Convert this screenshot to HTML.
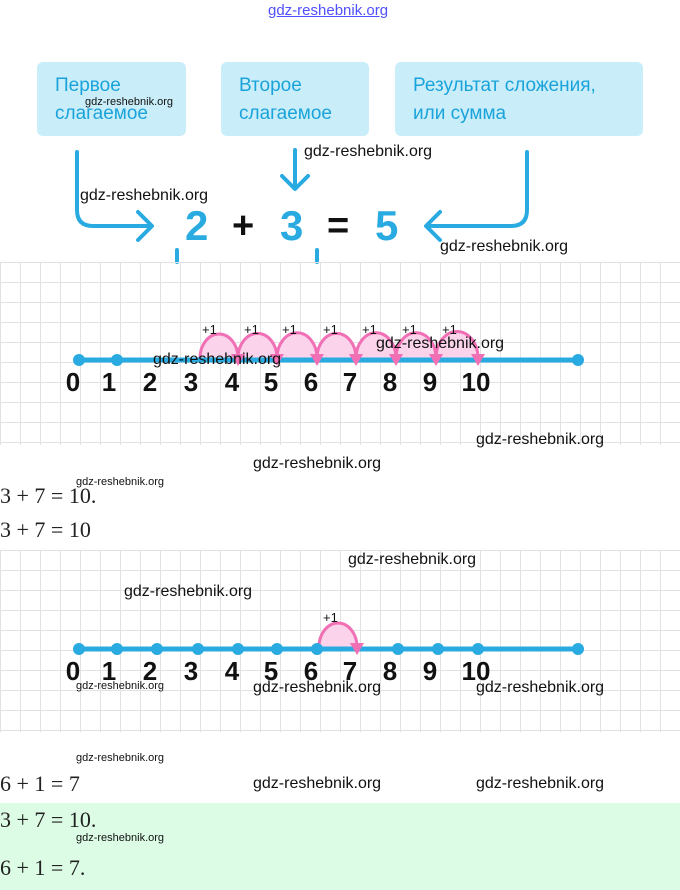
<!DOCTYPE html>
<html><head><meta charset="utf-8"><style>
body{margin:0;width:680px;height:890px;position:relative;background:#fff;overflow:hidden;font-family:"Liberation Sans",sans-serif}
.a{position:absolute}
.box{position:absolute;background:#c9eef9;border-radius:6px;color:#1aa3db;font-size:19px;line-height:28px;padding:10px 18px;box-sizing:border-box}
.wm{position:absolute;font-family:"Liberation Sans",sans-serif;font-size:16px;color:#111}
.ws{font-size:11px}
.grid{position:absolute;left:0;width:680px;background-image:linear-gradient(#e2e2e2 1px,transparent 1px),linear-gradient(90deg,#e2e2e2 1px,transparent 1px);background-size:20px 20px}
.m{position:absolute;font-family:"Liberation Serif",serif;font-size:22px;color:#222}
</style></head><body>
<div class="a" style="left:268px;top:2px;color:#5050ff;font-size:15px;text-decoration:underline">gdz-reshebnik.org</div>
<div class="box" style="left:37px;top:62px;width:149px;height:74px">Первое<br>слагаемое</div>
<div class="box" style="left:221px;top:62px;width:148px;height:74px">Второе<br>слагаемое</div>
<div class="box" style="left:395px;top:62px;width:248px;height:74px">Результат сложения,<br>или сумма</div>
<svg class="a" style="left:0;top:0" width="680" height="270">
<g fill="none" stroke="#29abe2" stroke-width="4" stroke-linecap="round" stroke-linejoin="round">
<path d="M77 152 V210 Q77 226 93 226 H150"/><path d="M138 212 L152 226 L138 240"/>
<path d="M295 150 V188"/><path d="M282 176 L295 189 L308 176"/>
<path d="M527 152 V210 Q527 226 511 226 H428"/><path d="M440 212 L426 226 L440 240"/>
<path d="M177 250 V262"/><path d="M317 250 V262"/>
</g>
<text x="185" y="240" font-size="42" font-weight="bold" fill="#29abe2" font-family="Liberation Sans">2</text>
<text x="232" y="238" font-size="38" font-weight="bold" fill="#111" font-family="Liberation Sans">+</text>
<text x="280" y="240" font-size="42" font-weight="bold" fill="#29abe2" font-family="Liberation Sans">3</text>
<text x="327" y="238" font-size="38" font-weight="bold" fill="#111" font-family="Liberation Sans">=</text>
<text x="375" y="240" font-size="42" font-weight="bold" fill="#29abe2" font-family="Liberation Sans">5</text>
</svg>
<div class="grid" style="top:262px;height:183px"></div>
<div class="grid" style="top:550px;height:182px"></div>
<svg class="a" style="left:0;top:0" width="680" height="890" font-family="Liberation Sans">
<g fill="#fbd3ea" stroke="#f06fb5" stroke-width="3">
<path d="M200 358 A19 24 0 0 1 238 358"/><path d="M238 358 A19 24 0 0 1 277 358"/><path d="M277 358 A19 24 0 0 1 317 358"/><path d="M317 358 A19 24 0 0 1 356 358"/><path d="M356 358 A19 24 0 0 1 396 358"/><path d="M396 358 A19 24 0 0 1 436 358"/><path d="M436 358 A19 24 0 0 1 478 358"/>
<path d="M319 647 A19 24 0 0 1 357 647"/>
</g>
<line x1="79" y1="360" x2="578" y2="360" stroke="#29abe2" stroke-width="5"/>
<line x1="79" y1="649" x2="578" y2="649" stroke="#29abe2" stroke-width="5"/>
<g fill="#29abe2"><circle cx="79" cy="360" r="6"/><circle cx="117" cy="360" r="6"/><circle cx="578" cy="360" r="6"/>
<circle cx="79" cy="649" r="6"/><circle cx="117" cy="649" r="6"/><circle cx="157" cy="649" r="6"/><circle cx="198" cy="649" r="6"/><circle cx="238" cy="649" r="6"/><circle cx="277" cy="649" r="6"/><circle cx="317" cy="649" r="6"/><circle cx="398" cy="649" r="6"/><circle cx="438" cy="649" r="6"/><circle cx="478" cy="649" r="6"/><circle cx="578" cy="649" r="6"/></g>
<g fill="#f06fb5"><path d="M231 354 h14 l-7 12z"/><path d="M270 354 h14 l-7 12z"/><path d="M310 354 h14 l-7 12z"/><path d="M349 354 h14 l-7 12z"/><path d="M389 354 h14 l-7 12z"/><path d="M429 354 h14 l-7 12z"/><path d="M471 354 h14 l-7 12z"/><path d="M350 643 h14 l-7 12z"/></g>
<g font-size="13" fill="#111"><text x="202" y="334">+1</text><text x="244" y="334">+1</text><text x="282" y="334">+1</text><text x="323" y="334">+1</text><text x="362" y="334">+1</text><text x="402" y="334">+1</text><text x="442" y="334">+1</text><text x="323" y="622">+1</text></g>
<g font-size="26" font-weight="bold" fill="#111" text-anchor="middle"><text x="73" y="391">0</text><text x="109" y="391">1</text><text x="150" y="391">2</text><text x="191" y="391">3</text><text x="232" y="391">4</text><text x="271" y="391">5</text><text x="311" y="391">6</text><text x="350" y="391">7</text><text x="390" y="391">8</text><text x="430" y="391">9</text><text x="476" y="391">10</text>
<text x="73" y="680">0</text><text x="109" y="680">1</text><text x="150" y="680">2</text><text x="191" y="680">3</text><text x="232" y="680">4</text><text x="271" y="680">5</text><text x="311" y="680">6</text><text x="350" y="680">7</text><text x="390" y="680">8</text><text x="430" y="680">9</text><text x="476" y="680">10</text></g>
</svg>
<div class="a" style="left:0;top:803px;width:680px;height:87px;background:#dcfce6"></div>
<div class="m" style="left:0;top:483px">3 + 7 = 10.</div>
<div class="m" style="left:0;top:517px">3 + 7 = 10</div>
<div class="m" style="left:0;top:771px">6 + 1 = 7</div>
<div class="m" style="left:0;top:807px">3 + 7 = 10.</div>
<div class="m" style="left:0;top:855px">6 + 1 = 7.</div>
<div class="wm ws" style="left:85px;top:96px">gdz-reshebnik.org</div>
<div class="wm" style="left:304px;top:143px">gdz-reshebnik.org</div>
<div class="wm" style="left:80px;top:187px">gdz-reshebnik.org</div>
<div class="wm" style="left:440px;top:238px">gdz-reshebnik.org</div>
<div class="wm" style="left:153px;top:351px">gdz-reshebnik.org</div>
<div class="wm" style="left:376px;top:335px">gdz-reshebnik.org</div>
<div class="wm" style="left:476px;top:431px">gdz-reshebnik.org</div>
<div class="wm" style="left:253px;top:455px">gdz-reshebnik.org</div>
<div class="wm ws" style="left:76px;top:476px">gdz-reshebnik.org</div>
<div class="wm" style="left:348px;top:551px">gdz-reshebnik.org</div>
<div class="wm" style="left:124px;top:583px">gdz-reshebnik.org</div>
<div class="wm ws" style="left:76px;top:680px">gdz-reshebnik.org</div>
<div class="wm" style="left:253px;top:679px">gdz-reshebnik.org</div>
<div class="wm" style="left:476px;top:679px">gdz-reshebnik.org</div>
<div class="wm ws" style="left:76px;top:752px">gdz-reshebnik.org</div>
<div class="wm" style="left:253px;top:775px">gdz-reshebnik.org</div>
<div class="wm" style="left:476px;top:775px">gdz-reshebnik.org</div>
<div class="wm ws" style="left:76px;top:832px">gdz-reshebnik.org</div>
</body></html>
